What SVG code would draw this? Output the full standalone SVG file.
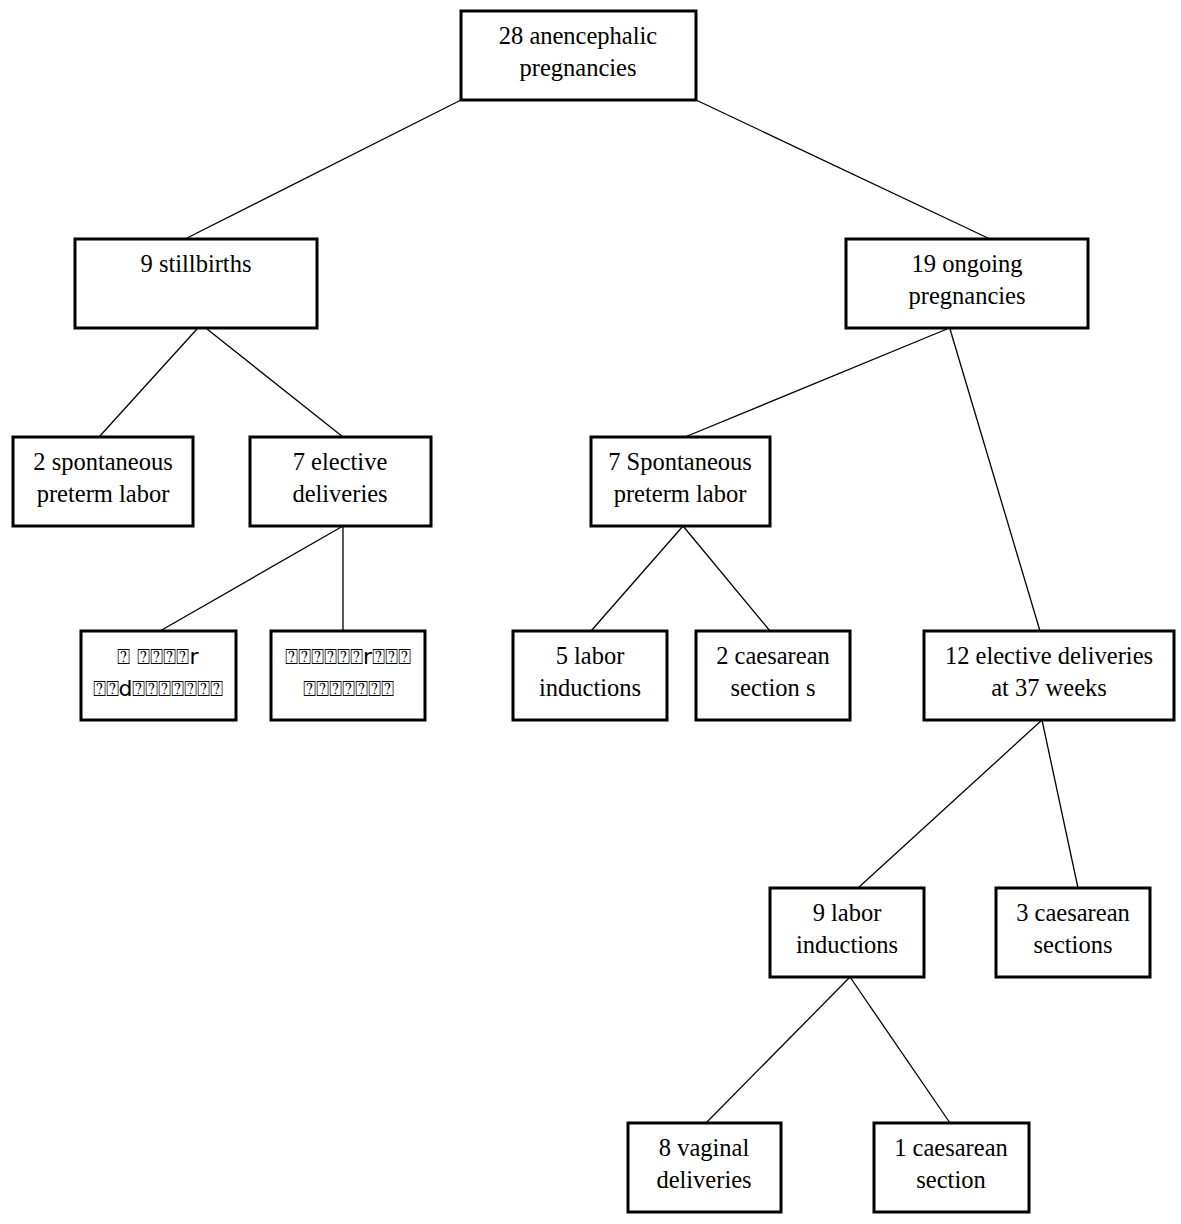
<svg xmlns="http://www.w3.org/2000/svg" width="1181" height="1224" viewBox="0 0 1181 1224">
<style>
.box{fill:#fff;stroke:#000;stroke-width:3}
.t{font-family:"Liberation Serif","Times New Roman",serif;font-size:24.5px;fill:#000;text-anchor:middle}
.q{font-family:"DejaVu Sans",sans-serif;font-size:22px;fill:#000;text-anchor:middle}
.c line{stroke:#000;stroke-width:1.3}
</style>
<rect width="1181" height="1224" fill="#fff"/>
<g class="c" id="connectors">
<line x1="461" y1="100" x2="185" y2="239"/>
<line x1="696" y1="100" x2="990" y2="239"/>
<line x1="197" y1="329" x2="99" y2="437"/>
<line x1="207" y1="329" x2="343" y2="437"/>
<line x1="947" y1="329" x2="685" y2="437"/>
<line x1="950" y1="329" x2="1040" y2="631"/>
<line x1="343" y1="526" x2="160" y2="631"/>
<line x1="343" y1="526" x2="343" y2="631"/>
<line x1="683" y1="526" x2="591" y2="631"/>
<line x1="683" y1="526" x2="770" y2="631"/>
<line x1="1042" y1="720" x2="858" y2="888"/>
<line x1="1042" y1="720" x2="1078" y2="888"/>
<line x1="850" y1="977" x2="706" y2="1123"/>
<line x1="850" y1="977" x2="950" y2="1123"/>
</g>
<g id="n-root"><rect class="box" x="461" y="11" width="235" height="89"/><text class="t" x="578" y="44">28 anencephalic</text><text class="t" x="578" y="76">pregnancies</text></g>
<g id="n-still"><rect class="box" x="75" y="239" width="242" height="89"/><text class="t" x="196" y="272">9 stillbirths</text></g>
<g id="n-ongoing"><rect class="box" x="846" y="239" width="242" height="89"/><text class="t" x="967" y="272">19 ongoing</text><text class="t" x="967" y="304">pregnancies</text></g>
<g id="n-spont2"><rect class="box" x="13" y="437" width="180" height="89"/><text class="t" x="103" y="470">2 spontaneous</text><text class="t" x="103" y="502">preterm labor</text></g>
<g id="n-elect7"><rect class="box" x="250" y="437" width="181" height="89"/><text class="t" x="340" y="470">7 elective</text><text class="t" x="340" y="502">deliveries</text></g>
<g id="n-tofu1"><rect class="box" x="81" y="631" width="155" height="89"/><text class="q" x="158" y="664">⍰ ⍰⍰⍰⍰r</text><text class="q" x="158" y="696">⍰⍰d⍰⍰⍰⍰⍰⍰⍰</text></g>
<g id="n-tofu2"><rect class="box" x="271" y="631" width="154" height="89"/><text class="q" x="348" y="664">⍰⍰⍰⍰⍰⍰r⍰⍰⍰</text><text class="q" x="348" y="696">⍰⍰⍰⍰⍰⍰⍰</text></g>
<g id="n-spont7"><rect class="box" x="591" y="437" width="179" height="89"/><text class="t" x="680" y="470">7 Spontaneous</text><text class="t" x="680" y="502">preterm labor</text></g>
<g id="n-labor5"><rect class="box" x="513" y="631" width="154" height="89"/><text class="t" x="590" y="664">5 labor</text><text class="t" x="590" y="696">inductions</text></g>
<g id="n-caes2"><rect class="box" x="696" y="631" width="154" height="89"/><text class="t" x="773" y="664">2 caesarean</text><text class="t" x="773" y="696">section s</text></g>
<g id="n-elect12"><rect class="box" x="924" y="631" width="250" height="89"/><text class="t" x="1049" y="664">12 elective deliveries</text><text class="t" x="1049" y="696">at 37 weeks</text></g>
<g id="n-labor9"><rect class="box" x="770" y="888" width="154" height="89"/><text class="t" x="847" y="921">9 labor</text><text class="t" x="847" y="953">inductions</text></g>
<g id="n-caes3"><rect class="box" x="996" y="888" width="154" height="89"/><text class="t" x="1073" y="921">3 caesarean</text><text class="t" x="1073" y="953">sections</text></g>
<g id="n-vag8"><rect class="box" x="628" y="1123" width="153" height="89"/><text class="t" x="704" y="1156">8 vaginal</text><text class="t" x="704" y="1188">deliveries</text></g>
<g id="n-caes1"><rect class="box" x="874" y="1123" width="155" height="89"/><text class="t" x="951" y="1156">1 caesarean</text><text class="t" x="951" y="1188">section</text></g>
</svg>
